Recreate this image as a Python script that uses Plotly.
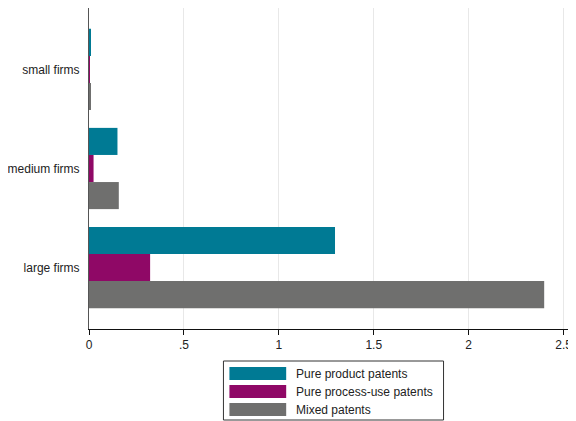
import plotly.graph_objects as go

categories = ["small firms", "medium firms", "large firms"]
series_names = ["Pure product patents", "Pure process-use patents", "Mixed patents"]
product = [0.010, 0.150, 1.296]
process_use = [0.002, 0.024, 0.322]
mixed = [0.009, 0.157, 2.398]
colors = ["#007A94", "#8F0866", "#6F6F6E"]
tick_vals = [0, 0.5, 1, 1.5, 2, 2.5]
tick_text = ["0", ".5", "1", "1.5", "2", "2.5"]

OFF = 8  # page body margin
W, H = 576 - OFF, 421 - OFF
L, R, T, B = 87 - OFF, 0, 8 - OFF, 421 - 329
pw, ph = W - L - R, H - T - B

def px(x):
    return (x - OFF - L) / pw

def py(y):
    return (H - B - (y - OFF)) / ph

fig = go.Figure()
for name, vals, col in zip(series_names, [product, process_use, mixed], colors):
    fig.add_trace(go.Bar(y=categories, x=vals, name=name, orientation="h",
                         marker=dict(color=col, line=dict(width=0)), showlegend=False))

font = dict(family="Liberation Sans, Arial, sans-serif", size=12, color="#222222")

fig.update_layout(
    width=W, height=H, margin=dict(l=L, r=R, t=T, b=B, pad=0),
    paper_bgcolor="white", plot_bgcolor="white",
    barmode="group", bargap=0.18, bargroupgap=0,
    font=font,
    xaxis=dict(range=[0, pw / 190.6], tickvals=tick_vals, ticktext=tick_text,
               showgrid=True, gridcolor="#E8E8E8", gridwidth=1, zeroline=False,
               showline=True, linecolor="#111111", linewidth=1,
               ticks="outside", ticklen=5, tickcolor="#111111", tickfont=font),
    yaxis=dict(categoryorder="array", categoryarray=categories,
               range=[2.62, -0.62], showgrid=False, zeroline=False,
               showline=True, linecolor="#555555", linewidth=1,
               ticks="", ticklabelstandoff=6, tickfont=font),
)

# legend box
fig.add_shape(type="rect", xref="paper", yref="paper",
              x0=px(222), x1=px(443), y0=py(361), y1=py(420),
              line=dict(color="#333333", width=1), fillcolor="white")
item_y = [373.5, 391.5, 409.5]
for name, col, yc in zip(series_names, colors, item_y):
    fig.add_shape(type="rect", xref="paper", yref="paper",
                  x0=px(228), x1=px(285), y0=py(yc - 6.5), y1=py(yc + 6.5),
                  line=dict(width=0), fillcolor=col)
    fig.add_annotation(xref="paper", yref="paper", x=px(293), y=py(yc),
                       text=name, showarrow=False, xanchor="left", yanchor="middle",
                       font=font)

fig.write_html("out.html")
